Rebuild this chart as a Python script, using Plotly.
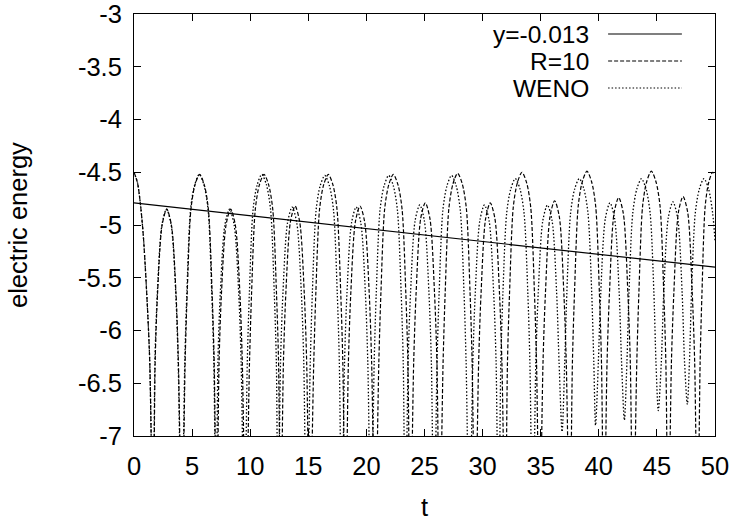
import plotly.graph_objects as go

# ---- data ----
fit_t = [0, 50]
fit_v = [-4.79, -5.40]

r10_t = [0.0, 0.3, 0.55, 0.8, 1.09, 1.35, 1.65,
         1.82, 2.03, 2.42, 2.82, 3.22, 3.61, 3.82, 4.13,
         4.40, 4.58, 4.90, 5.25, 5.65, 6.05, 6.40, 6.72, 6.90, 7.12,
         7.32, 7.53, 7.92, 8.32, 8.72, 9.11, 9.32, 9.62,
         9.94, 10.12, 10.44, 10.79, 11.19, 11.59, 11.94, 12.26, 12.44, 12.62,
         12.86, 13.07, 13.46, 13.86, 14.26, 14.65, 14.86, 15.12,
         15.47, 15.65, 15.97, 16.32, 16.72, 17.12, 17.47, 17.79, 17.97, 18.2,
         18.45, 18.66, 19.05, 19.45, 19.85, 20.24, 20.45, 20.75,
         21.07, 21.25, 21.57, 21.92, 22.32, 22.72, 23.07, 23.39, 23.57, 23.78,
         24.07, 24.28, 24.67, 25.07, 25.47, 25.86, 26.07, 26.3,
         26.6, 26.78, 27.1, 27.45, 27.85, 28.25, 28.6, 28.92, 29.1, 29.35,
         29.66, 29.87, 30.26, 30.66, 31.06, 31.45, 31.66, 31.95,
         32.14, 32.32, 32.64, 32.99, 33.39, 33.79, 34.14, 34.46, 34.64, 34.9,
         35.2, 35.41, 35.8, 36.2, 36.6, 36.99, 37.2, 37.5,
         37.73, 37.91, 38.23, 38.58, 38.98, 39.38, 39.73, 40.05, 40.23, 40.45,
         40.71, 40.92, 41.31, 41.71, 42.11, 42.5, 42.71, 42.95,
         43.27, 43.45, 43.77, 44.12, 44.52, 44.92, 45.27, 45.59, 45.77, 45.98,
         46.25, 46.46, 46.85, 47.25, 47.65, 48.04, 48.25, 48.5,
         48.72, 48.88, 49.15, 49.45, 49.8, 50.0]
r10_v = [-4.50, -4.60, -4.80, -5.10, -5.64, -6.28, -8,
         -6.3, -5.64, -5.0, -4.85, -5.0, -5.64, -6.3, -8,
         -6.3, -5.64, -4.85, -4.62, -4.52, -4.62, -4.85, -5.64, -6.3, -8,
         -6.3, -5.64, -5.0, -4.85, -5.0, -5.64, -6.3, -8,
         -6.3, -5.64, -4.85, -4.62, -4.52, -4.62, -4.85, -5.64, -6.3, -8,
         -6.3, -5.64, -4.97, -4.82, -4.97, -5.64, -6.3, -8,
         -6.3, -5.64, -4.85, -4.62, -4.52, -4.62, -4.85, -5.64, -6.3, -8,
         -6.3, -5.64, -4.97, -4.82, -4.97, -5.64, -6.3, -8,
         -6.3, -5.64, -4.85, -4.62, -4.52, -4.62, -4.85, -5.64, -6.3, -8,
         -6.3, -5.64, -4.94, -4.79, -4.94, -5.64, -6.3, -8,
         -6.3, -5.64, -4.84, -4.61, -4.51, -4.61, -4.84, -5.64, -6.3, -8,
         -6.3, -5.64, -4.94, -4.79, -4.94, -5.64, -6.3, -8,
         -6.3, -5.64, -4.83, -4.60, -4.50, -4.60, -4.83, -5.64, -6.3, -8,
         -6.3, -5.64, -4.92, -4.77, -4.92, -5.64, -6.3, -8,
         -6.3, -5.64, -4.82, -4.59, -4.49, -4.59, -4.82, -5.64, -6.3, -8,
         -6.3, -5.64, -4.89, -4.74, -4.89, -5.64, -6.3, -8,
         -6.3, -5.64, -4.82, -4.59, -4.49, -4.59, -4.82, -5.64, -6.3, -8,
         -6.3, -5.64, -4.88, -4.73, -4.88, -5.64, -6.3, -8,
         -6.3, -5.64, -4.83, -4.60, -4.50, -4.52]

weno_t = [0.0, 0.3, 0.55, 0.8, 1.09, 1.35, 1.65,
          1.80, 2.01, 2.40, 2.80, 3.20, 3.59, 3.80, 4.1,
          4.37, 4.55, 4.87, 5.22, 5.62, 6.02, 6.37, 6.69, 6.87, 7.07,
          7.22, 7.43, 7.82, 8.22, 8.62, 9.01, 9.22, 9.5,
          9.75, 9.93, 10.25, 10.6, 11.0, 11.4, 11.75, 12.07, 12.25, 12.4,
          12.61, 12.82, 13.21, 13.61, 14.01, 14.4, 14.61, 14.85,
          15.17, 15.35, 15.67, 16.02, 16.42, 16.82, 17.17, 17.49, 17.67, 17.88,
          18.12, 18.33, 18.72, 19.12, 19.52, 19.91, 20.12, 20.4,
          20.67, 20.85, 21.17, 21.52, 21.92, 22.32, 22.67, 22.99, 23.17, 23.35,
          23.59, 23.8, 24.19, 24.59, 24.99, 25.38, 25.59, 25.82,
          26.08, 26.26, 26.58, 26.93, 27.33, 27.73, 28.08, 28.4, 28.58, 28.87,
          29.16, 29.37, 29.76, 30.16, 30.56, 30.95, 31.16, 31.37,
          31.57, 31.75, 32.07, 32.42, 32.82, 33.22, 33.57, 33.89, 34.07, 34.32,
          34.58, 34.79, 35.18, 35.58, 35.98, 36.37, 36.58, 36.84,
          37.07, 37.25, 37.57, 37.92, 38.32, 38.72, 39.07, 39.39, 39.57, 39.72,
          39.96, 40.17, 40.56, 40.96, 41.36, 41.75, 41.96, 42.2,
          42.42, 42.6, 42.92, 43.27, 43.67, 44.07, 44.42, 44.74, 44.92, 45.12,
          45.38, 45.59, 45.98, 46.38, 46.78, 47.17, 47.38, 47.62,
          47.8, 47.98, 48.3, 48.65, 49.05, 49.45, 49.8, 50.0]
weno_v = [-4.50, -4.60, -4.80, -5.10, -5.64, -6.28, -8,
          -6.3, -5.64, -5.0, -4.85, -5.0, -5.64, -6.3, -8,
          -6.3, -5.64, -4.85, -4.62, -4.52, -4.62, -4.85, -5.64, -6.3, -8,
          -6.3, -5.64, -5.0, -4.85, -5.0, -5.64, -6.3, -8,
          -6.3, -5.64, -4.85, -4.62, -4.52, -4.62, -4.85, -5.64, -6.3, -8,
          -6.3, -5.64, -4.98, -4.83, -4.98, -5.64, -6.3, -8,
          -6.3, -5.64, -4.86, -4.63, -4.53, -4.63, -4.86, -5.64, -6.3, -8,
          -6.3, -5.64, -4.98, -4.83, -4.98, -5.64, -6.3, -8,
          -6.3, -5.64, -4.86, -4.63, -4.53, -4.63, -4.86, -5.64, -6.3, -8,
          -6.3, -5.64, -4.96, -4.81, -4.96, -5.64, -6.3, -8,
          -6.3, -5.64, -4.86, -4.63, -4.53, -4.63, -4.86, -5.64, -6.3, -8,
          -6.3, -5.64, -4.96, -4.81, -4.96, -5.64, -6.3, -8,
          -6.3, -5.64, -4.89, -4.66, -4.56, -4.66, -4.89, -5.64, -6.3, -8,
          -6.3, -5.64, -4.96, -4.81, -4.96, -5.64, -6.3, -6.96,
          -6.3, -5.64, -4.89, -4.66, -4.56, -4.66, -4.89, -5.64, -6.3, -6.9,
          -6.3, -5.64, -4.94, -4.79, -4.94, -5.64, -6.3, -6.85,
          -6.3, -5.64, -4.89, -4.66, -4.56, -4.66, -4.89, -5.64, -6.3, -6.76,
          -6.3, -5.64, -4.93, -4.78, -4.93, -5.64, -6.3, -6.7,
          -6.3, -5.64, -4.89, -4.66, -4.56, -4.66, -4.89, -5.15]

x_ticks = [0, 5, 10, 15, 20, 25, 30, 35, 40, 45, 50]
x_labels = ["0", "5", "10", "15", "20", "25", "30", "35", "40", "45", "50"]
y_ticks = [-3, -3.5, -4, -4.5, -5, -5.5, -6, -6.5, -7]
y_labels = ["-3", "-3.5", "-4", "-4.5", "-5", "-5.5", "-6", "-6.5", "-7"]
legend_names = ["y=-0.013", "R=10", "WENO"]

FONT = "Liberation Sans, Arial, Helvetica, sans-serif"
FS = 25.5
FS_KEY = 24.5

fig = go.Figure()
fig.add_trace(go.Scatter(x=fit_t, y=fit_v, mode="lines", name=legend_names[0],
                         line=dict(color="black", width=1.2)))
fig.add_trace(go.Scatter(x=r10_t, y=r10_v, mode="lines", name=legend_names[1],
                         line=dict(color="black", width=1.2, dash="4px,2px",
                                   shape="spline", smoothing=0.8)))
fig.add_trace(go.Scatter(x=weno_t, y=weno_v, mode="lines", name=legend_names[2],
                         line=dict(color="black", width=1.3, dash="1.5px,2px",
                                   shape="spline", smoothing=0.8)))

axis_common = dict(showline=True, linecolor="black", linewidth=1, mirror="allticks",
                   ticks="inside", ticklen=7, tickcolor="black", showgrid=False,
                   zeroline=False, automargin=False, ticklabeloverflow="allow",
                   tickfont=dict(family=FONT, size=FS, color="black"))
fig.update_xaxes(range=[0, 50], tickvals=x_ticks, ticktext=x_labels,
                 ticklabelstandoff=7, **axis_common)
fig.update_yaxes(range=[-7, -3], tickvals=y_ticks, ticktext=y_labels,
                 ticklabelstandoff=6, **axis_common)

# custom gnuplot-style key: text right-aligned, sample line to the right
key_y = [0.9526, 0.8886, 0.8246]
key_dash = ["solid", "4px,2px", "1.5px,2px"]
annotations = []
shapes = []
for name, ky, kd in zip(legend_names, key_y, key_dash):
    annotations.append(dict(x=0.785, y=ky, xref="paper", yref="paper", text=name,
                            showarrow=False, xanchor="right", yanchor="middle",
                            borderpad=0,
                            font=dict(family=FONT, size=FS_KEY, color="black")))
    shapes.append(dict(type="line", xref="paper", yref="paper", x0=0.816, x1=0.943,
                       y0=ky, y1=ky, line=dict(color="black", width=1.1, dash=kd)))

annotations.append(dict(x=0.5, y=-0.168, xref="paper", yref="paper", text="t",
                        showarrow=False, xanchor="center", yanchor="middle",
                        font=dict(family=FONT, size=FS, color="black")))
annotations.append(dict(x=-0.1997, y=0.5, xref="paper", yref="paper",
                        text="electric energy", textangle=-90, showarrow=False,
                        xanchor="center", yanchor="middle",
                        font=dict(family=FONT, size=FS, color="black")))

fig.update_layout(width=731, height=523, margin=dict(l=134, r=16, t=14, b=87),
                  paper_bgcolor="white", plot_bgcolor="white", showlegend=False,
                  annotations=annotations, shapes=shapes)

# remove the default 8px page margin so the figure fills the window exactly
fig.write_html("out.html", config={"displayModeBar": False},
               post_script="document.body.style.margin='0';")
